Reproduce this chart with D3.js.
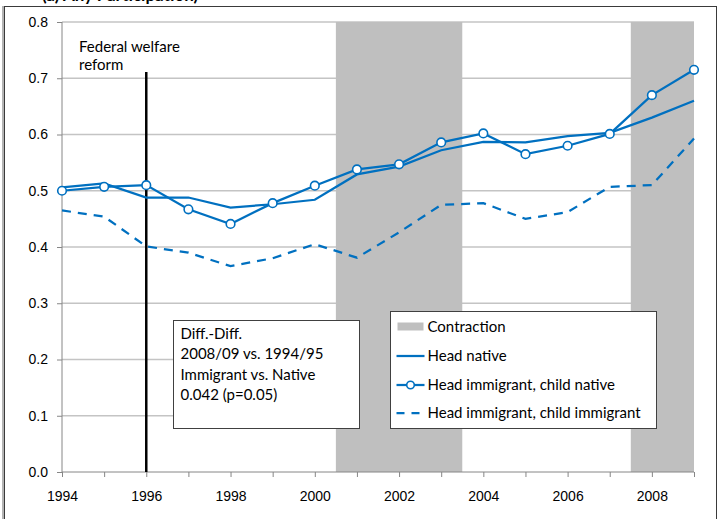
<!DOCTYPE html>
<html>
<head>
<meta charset="utf-8">
<script src="https://cdn.jsdelivr.net/npm/d3@7"></script>
<style>
  body { margin: 0; background: #fff; }
  svg { font-family: Lato, "Noto Sans", sans-serif; }
  .axis text { font-size: 14px; fill: #000; }
  .axis path, .axis line { stroke: #868686; }
</style>
</head>
<body>
<svg id="chart"></svg>
<script>
// data
var years = [1994, 1995, 1996, 1997, 1998, 1999, 2000, 2001, 2002, 2003, 2004, 2005, 2006, 2007, 2008, 2009];
var headNative = [0.506, 0.513, 0.488, 0.488, 0.470, 0.476, 0.484, 0.529, 0.543, 0.572, 0.587, 0.586, 0.597, 0.603, 0.630, 0.660];
var immChildNative = [0.500, 0.507, 0.510, 0.467, 0.441, 0.478, 0.509, 0.538, 0.547, 0.586, 0.602, 0.565, 0.580, 0.601, 0.670, 0.715];
var immChildImm = [0.465, 0.454, 0.401, 0.390, 0.366, 0.380, 0.405, 0.381, 0.426, 0.475, 0.478, 0.450, 0.462, 0.507, 0.510, 0.593];
var contractions = [[2000.5, 2003.5], [2007.5, 2009]];
var yTicks = [0, 0.1, 0.2, 0.3, 0.4, 0.5, 0.6, 0.7, 0.8];
var reformYear = 1996;
var noteLines = ["Diff.-Diff.", "2008/09 vs. 1994/95", "Immigrant vs. Native", "0.042 (p=0.05)"];
var legendLabels = ["Contraction", "Head native", "Head immigrant, child native", "Head immigrant, child immigrant"];

var screen = { width: 727, height: 519 };
var margins = { top: 22, bottom: 47, left: 62, right: 33 };
var graph = {
  width: screen.width - margins.left - margins.right,
  height: screen.height - margins.top - margins.bottom
};
var blue = "#0070c0";

var svg = d3.select("#chart").attr("width", screen.width).attr("height", screen.height);

// outer frame and the title that is cut off at the top
svg.append("rect").attr("x", 4.5).attr("y", 6.5).attr("width", 712).attr("height", 520)
  .attr("fill", "#fff").attr("stroke", "#3a3a3a").attr("stroke-width", 1);
svg.append("line").attr("x1", 3).attr("x2", 3).attr("y1", 6).attr("y2", 519)
  .attr("stroke", "#9a9a9a").attr("stroke-width", 1.5);
svg.append("text").attr("x", 42).attr("y", 0.5).attr("font-weight", "bold").attr("font-size", 17)
  .text("(a) Any Participation)");

var g = svg.append("g").attr("transform", "translate(" + margins.left + "," + margins.top + ")");

var x = d3.scaleLinear().domain([1994, 2009]).range([0, graph.width]);
var y = d3.scaleLinear().domain([0, 0.8]).range([graph.height, 0]);

// gridlines
g.append("g").selectAll("line").data(yTicks.slice(1)).enter().append("line")
  .attr("x1", 0).attr("x2", graph.width)
  .attr("y1", function (d) { return y(d); }).attr("y2", function (d) { return y(d); })
  .attr("stroke", "#c4c4c4").attr("stroke-width", 1.5);

// contraction shading
g.append("g").selectAll("rect").data(contractions).enter().append("rect")
  .attr("x", function (d) { return x(d[0]); })
  .attr("width", function (d) { return x(d[1]) - x(d[0]); })
  .attr("y", y(0.8)).attr("height", y(0) - y(0.8))
  .attr("fill", "#bfbfbf");

// axes
var xAxis = d3.axisBottom(x).tickValues(years).tickSize(5).tickPadding(14)
  .tickFormat(function (d) { return d % 2 === 0 && d < 2009 ? d : ""; });
g.append("g").attr("class", "axis").attr("transform", "translate(0," + graph.height + ")")
  .call(xAxis).call(function (a) { a.select(".domain").attr("d", "M0,0H" + graph.width); });

var yAxis = d3.axisLeft(y).tickValues(yTicks).tickSize(5).tickPadding(9).tickFormat(d3.format(".1f"));
g.append("g").attr("class", "axis").call(yAxis)
  .call(function (a) { a.select(".domain").attr("d", "M0,0V" + graph.height); });

// reform line
g.append("line").attr("x1", x(reformYear)).attr("x2", x(reformYear))
  .attr("y1", 50).attr("y2", graph.height)
  .attr("stroke", "#000").attr("stroke-width", 2.5);
var reformText = g.append("text").attr("x", 17).attr("y", 30).attr("font-size", 15);
reformText.append("tspan").attr("x", 17).attr("dy", 0).text("Federal welfare");
reformText.append("tspan").attr("x", 17).attr("dy", 18).text("reform");

// series
var line = d3.line()
  .x(function (d, i) { return x(years[i]); })
  .y(function (d) { return y(d); });

g.append("path").datum(immChildImm).attr("d", line).attr("fill", "none")
  .attr("stroke", blue).attr("stroke-width", 2.25).attr("stroke-dasharray", "9,7");
g.append("path").datum(headNative).attr("d", line).attr("fill", "none")
  .attr("stroke", blue).attr("stroke-width", 2.25);
g.append("path").datum(immChildNative).attr("d", line).attr("fill", "none")
  .attr("stroke", blue).attr("stroke-width", 2.25);
g.append("g").selectAll("circle").data(immChildNative).enter().append("circle")
  .attr("cx", function (d, i) { return x(years[i]); })
  .attr("cy", function (d) { return y(d); })
  .attr("r", 4.3).attr("fill", "#fff").attr("stroke", blue).attr("stroke-width", 1.6);

// annotation box
var note = svg.append("g").attr("transform", "translate(173.5,320.5)");
note.append("rect").attr("width", 186).attr("height", 108).attr("fill", "#fff")
  .attr("stroke", "#404040").attr("stroke-width", 1);
note.selectAll("text").data(noteLines).enter().append("text")
  .attr("x", 7).attr("y", function (d, i) { return 18 + i * 20.5; })
  .attr("font-size", 15).text(function (d) { return d; });

// legend
var legend = svg.append("g").attr("transform", "translate(390.5,311.5)");
legend.append("rect").attr("width", 266).attr("height", 117).attr("fill", "#fff")
  .attr("stroke", "#404040").attr("stroke-width", 1);
var rowY = [15, 44.5, 73.5, 101.5];
legend.append("rect").attr("x", 7).attr("y", rowY[0] - 4).attr("width", 26).attr("height", 8).attr("fill", "#bfbfbf");
legend.append("line").attr("x1", 6).attr("x2", 34).attr("y1", rowY[1]).attr("y2", rowY[1])
  .attr("stroke", blue).attr("stroke-width", 2.25);
legend.append("line").attr("x1", 6).attr("x2", 34).attr("y1", rowY[2]).attr("y2", rowY[2])
  .attr("stroke", blue).attr("stroke-width", 2.25);
legend.append("circle").attr("cx", 20).attr("cy", rowY[2]).attr("r", 3.8).attr("fill", "#fff")
  .attr("stroke", blue).attr("stroke-width", 1.6);
legend.append("line").attr("x1", 6).attr("x2", 34).attr("y1", rowY[3]).attr("y2", rowY[3])
  .attr("stroke", blue).attr("stroke-width", 2.25).attr("stroke-dasharray", "8,7");
legend.selectAll("text.lab").data(legendLabels).enter().append("text").attr("class", "lab")
  .attr("x", 37).attr("y", function (d, i) { return rowY[i] + 5; })
  .attr("font-size", 15).text(function (d) { return d; });
</script>
</body>
</html>
